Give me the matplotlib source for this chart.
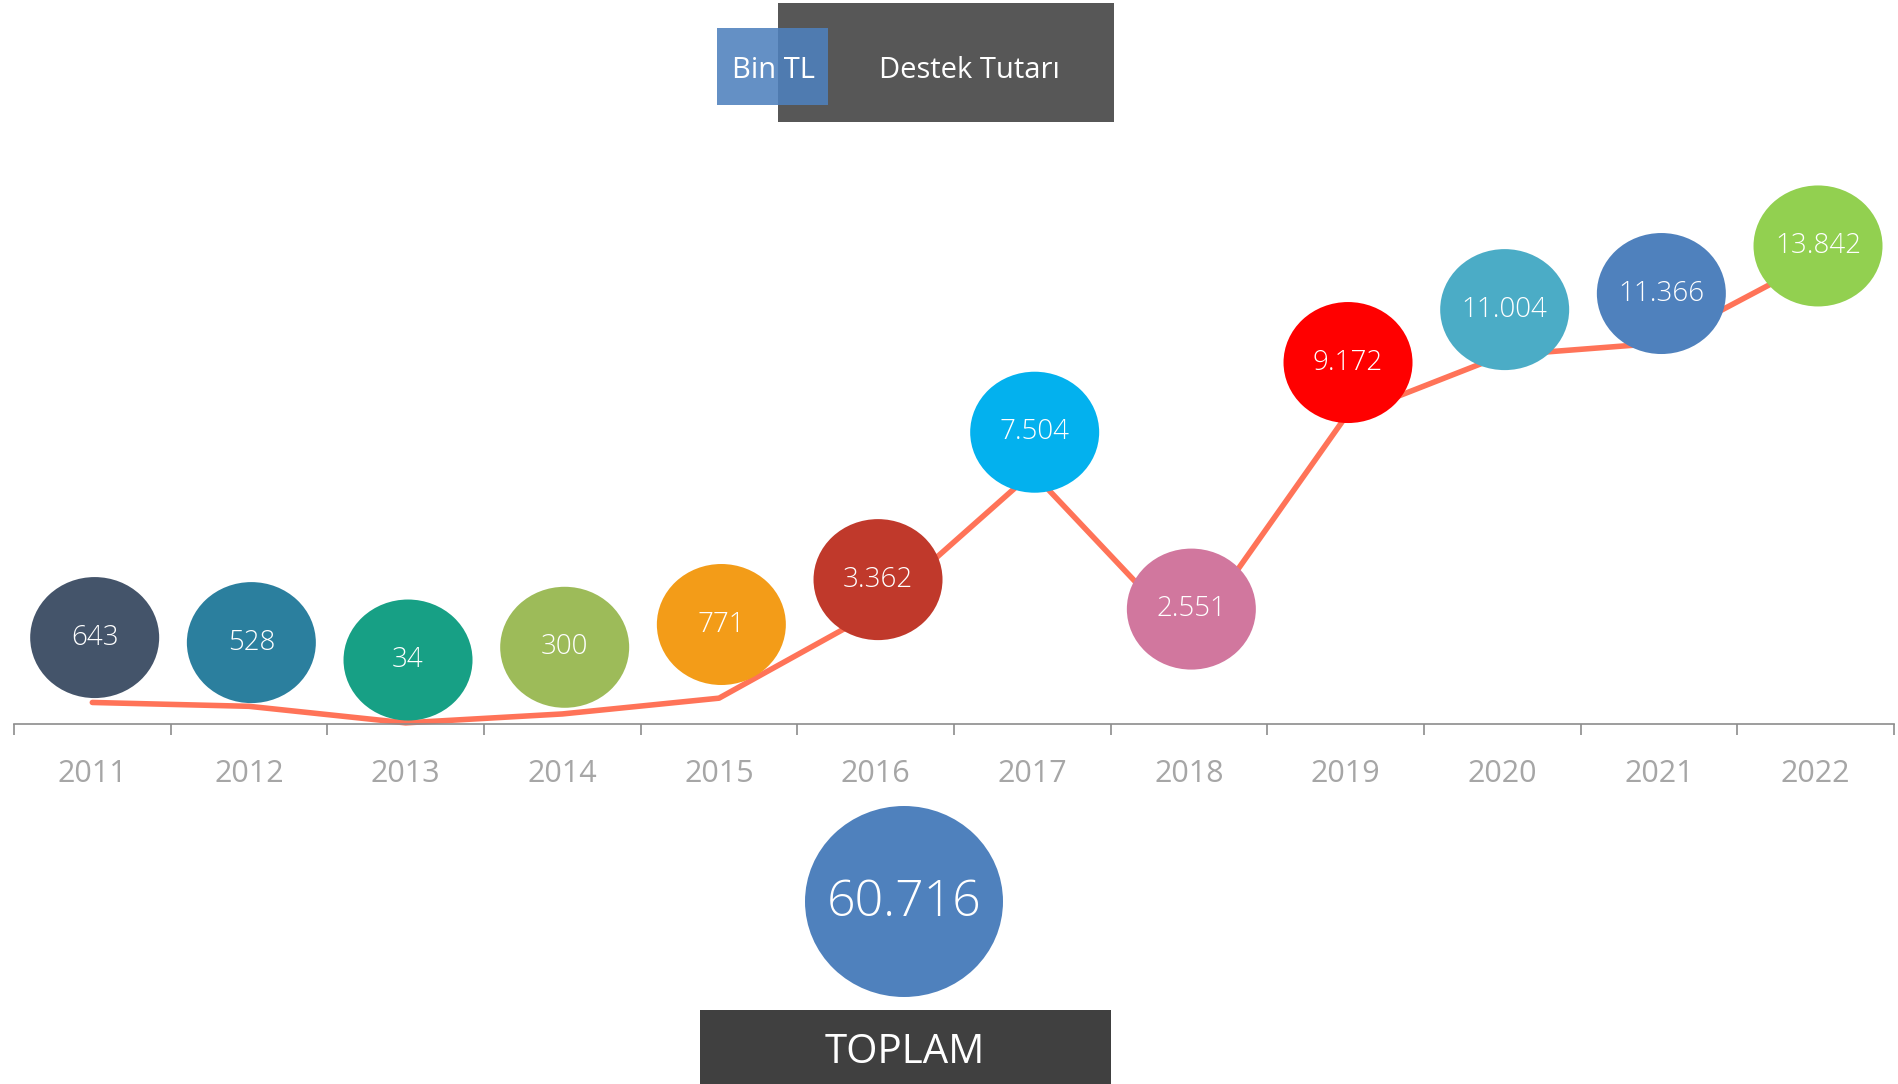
import matplotlib; matplotlib.use('Agg')
import matplotlib.pyplot as plt
from matplotlib.patches import Ellipse, Rectangle
import numpy as np

plt.rcParams['font.family'] = ['Open Sans', 'DejaVu Sans']

# =============================================================================
# DATA
# =============================================================================
YEARS = ['2011', '2012', '2013', '2014', '2015', '2016',
         '2017', '2018', '2019', '2020', '2021', '2022']
AMOUNTS = [643, 528, 34, 300, 771, 3362, 7504, 2551, 9172, 11004, 11366, 13842]
# where each bubble sits (same units as AMOUNTS)
BUBBLE_Y = [2580, 2430, 1910, 2290, 2970, 4310, 8710, 3430, 10790, 12370, 12850, 14270]
BUBBLE_COLORS = ['#44546a', '#2b7f9e', '#17a085', '#9dbb59', '#f39c18', '#c0392b',
                 '#03b1ee', '#d1779e', '#ff0000', '#4bacc6', '#4f81bd', '#92d050']
TOTAL_LABEL = '60.716'
UNIT_LABEL = 'Bin TL'
TITLE = 'Destek Tutarı'
TOTAL_TITLE = 'TOPLAM'

LINE_C = '#ff7358'
AXIS_C = '#8c8c8c'
TICK_C = '#a6a6a6'

# =============================================================================
# LAYOUT (pixel based, figure is 1898 x 1084)
# =============================================================================
W, H = 1898, 1084
AX_L, AX_R, AX_BOT, AX_HPX = 14, 1894, 724, 670
YMAX = 20000
px_x = (AX_R - AX_L) / len(YEARS)
px_y = AX_HPX / YMAX

fig = plt.figure(figsize=(W / 100, H / 100), dpi=100)
fig.patch.set_facecolor('white')
ax = fig.add_axes([AX_L / W, 1 - AX_BOT / H, (AX_R - AX_L) / W, AX_HPX / H])
ax.set_facecolor('none')

x = np.arange(len(YEARS))
ax.plot(x, AMOUNTS, color=LINE_C, lw=4, solid_capstyle='round',
        clip_on=False, zorder=2)

for i, (yb, c, v) in enumerate(zip(BUBBLE_Y, BUBBLE_COLORS, AMOUNTS)):
    xb = x[i] + 0.015
    ax.add_patch(Ellipse((xb, yb), 129 / px_x, 121 / px_y,
                         facecolor=c, edgecolor='none', zorder=3, clip_on=False))
    ax.text(xb, yb, f'{v:,}'.replace(',', '.'), ha='center', va='center',
            fontsize=20, fontweight='light', color='white', zorder=4)

ax.set_xlim(-0.5, len(YEARS) - 0.5)
ax.set_ylim(0, YMAX)
ax.set_yticks([])
for sp in ['top', 'right', 'left']:
    ax.spines[sp].set_visible(False)
ax.spines['bottom'].set_color(AXIS_C)
ax.spines['bottom'].set_linewidth(1.2)

ax.set_xticks(np.arange(-0.5, len(YEARS), 1))
ax.tick_params(axis='x', which='major', length=8, width=1.2, color=AXIS_C,
               labelbottom=False)
ax.set_xticks(x, minor=True)
ax.set_xticklabels(YEARS, minor=True)
ax.tick_params(axis='x', which='minor', length=0, pad=25, labelsize=22,
               labelcolor=TICK_C)

# ── header ───────────────────────────────────────────────────────────────────
fig.add_artist(Rectangle((778 / W, 1 - 122 / H), 336 / W, 119 / H,
                         transform=fig.transFigure, facecolor='#575757',
                         edgecolor='none', zorder=1))
fig.add_artist(Rectangle((717 / W, 1 - 105 / H), 111 / W, 77 / H,
                         transform=fig.transFigure, facecolor='#4f81bd',
                         alpha=0.88, edgecolor='none', zorder=2))
fig.text(773 / W, 1 - 70 / H, UNIT_LABEL, ha='center', va='center',
         fontsize=21, color='white', zorder=3)
fig.text(969 / W, 1 - 70 / H, TITLE, ha='center', va='center',
         fontsize=21, color='white', zorder=3)

# ── total ────────────────────────────────────────────────────────────────────
fig.add_artist(Ellipse((904 / W, 1 - 901.5 / H), 198 / W, 191 / H,
                       transform=fig.transFigure, facecolor='#4f81bd',
                       edgecolor='none', zorder=1))
fig.text(904 / W, 1 - 903 / H, TOTAL_LABEL, ha='center', va='center',
         fontsize=36, fontweight='light', color='white', zorder=2)
fig.add_artist(Rectangle((700 / W, 0), 411 / W, 74 / H,
                         transform=fig.transFigure, facecolor='#404040',
                         edgecolor='none', zorder=1))
fig.text(905 / W, 1 - 1053 / H, TOTAL_TITLE, ha='center', va='center',
         fontsize=29, color='white', zorder=2)

fig.savefig('out.png', dpi=100, facecolor='white')
